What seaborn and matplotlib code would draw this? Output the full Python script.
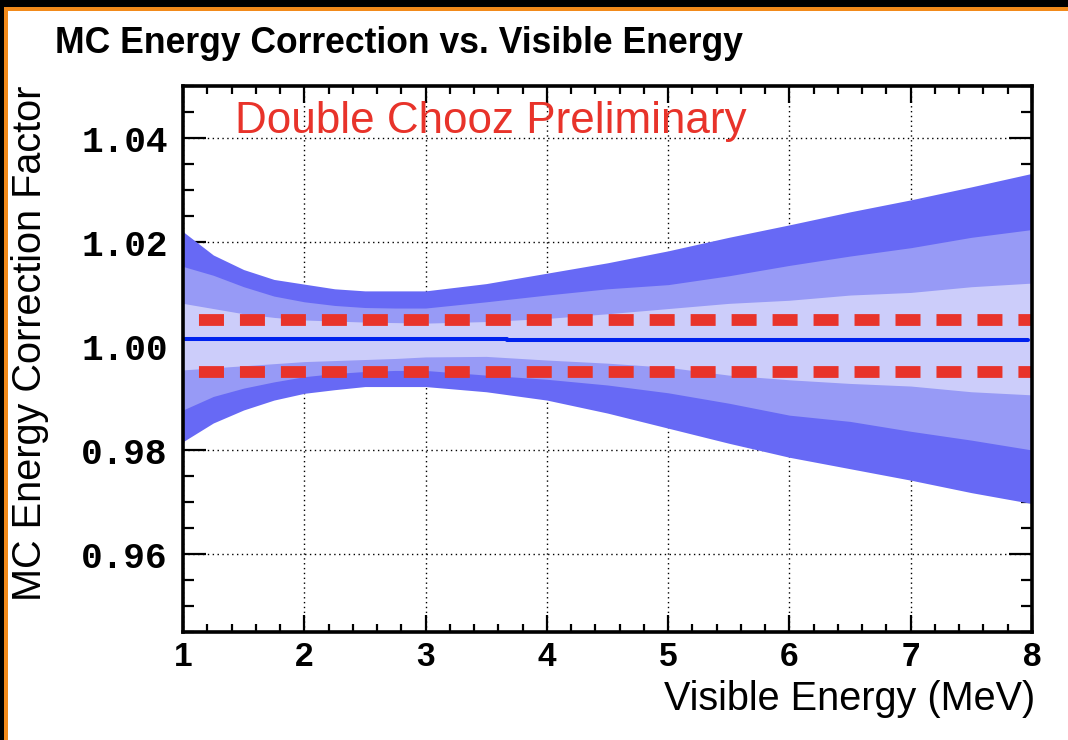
import numpy as np
import pandas as pd
import matplotlib
matplotlib.use("Agg")
import matplotlib.pyplot as plt
from matplotlib.patches import Rectangle
from matplotlib.ticker import MultipleLocator, FixedLocator
import seaborn as sns

# ---------------- data ----------------
energy = [1.0, 1.25, 1.5, 1.75, 2.0, 2.25, 2.5, 2.75, 3.0, 3.5, 4.0, 4.5,
          5.0, 5.5, 6.0, 6.5, 7.0, 7.5, 8.0]
outer_hi = [1.0220, 1.0175, 1.0147, 1.0128, 1.0119, 1.0110, 1.0106, 1.0106,
            1.0106, 1.0120, 1.0140, 1.0160, 1.0183, 1.0209, 1.0233, 1.0258,
            1.0281, 1.0306, 1.0332]
outer_lo = [0.9816, 0.9852, 0.9877, 0.9896, 0.9909, 0.9916, 0.9922, 0.9922,
            0.9922, 0.9912, 0.9896, 0.9871, 0.9842, 0.9813, 0.9786, 0.9764,
            0.9742, 0.9718, 0.9697]
mid_hi = [1.0153, 1.0136, 1.0114, 1.0096, 1.0085, 1.0078, 1.0074, 1.0073,
          1.0073, 1.0085, 1.0098, 1.0110, 1.0118, 1.0135, 1.0155, 1.0173,
          1.0189, 1.0209, 1.0224]
mid_lo = [0.9877, 0.9903, 0.9919, 0.9931, 0.9941, 0.9947, 0.9951, 0.9953,
          0.9953, 0.9944, 0.9936, 0.9925, 0.9910, 0.9890, 0.9867, 0.9855,
          0.9836, 0.9819, 0.9800]
inner_hi = [1.0082, 1.0072, 1.0062, 1.0055, 1.0050, 1.0048, 1.0046, 1.0045,
            1.0044, 1.0047, 1.0053, 1.0062, 1.0072, 1.0082, 1.0088, 1.0098,
            1.0103, 1.0114, 1.0121]
inner_lo = [0.9954, 0.9958, 0.9962, 0.9966, 0.9970, 0.9972, 0.9974, 0.9976,
            0.9979, 0.9980, 0.9973, 0.9967, 0.9959, 0.9944, 0.9935, 0.9928,
            0.9923, 0.9912, 0.9906]

center_x = [1.02, 3.67, 7.97]
center_y = [1.0014, 1.0012, 1.0012]

limit_x = [1.0, 8.0]
limit_hi = [1.005, 1.005]
limit_lo = [0.995, 0.995]

x_ticks = [1, 2, 3, 4, 5, 6, 7, 8]
y_ticks = [0.96, 0.98, 1.00, 1.02, 1.04]
y_tick_labels = ["0.96", "0.98", "1.00", "1.02", "1.04"]

title = "MC Energy Correction vs. Visible Energy"
xlabel = "Visible Energy (MeV)"
ylabel = "MC Energy Correction Factor"
watermark = "Double Chooz Preliminary"

# ---------------- style ----------------
sns.set_theme(style="ticks")
plt.rcParams["font.family"] = ["Liberation Sans", "DejaVu Sans"]
plt.rcParams["lines.scale_dashes"] = False
plt.rcParams["text.color"] = "black"

W, H = 1068, 740
fig = plt.figure(figsize=(W / 100, H / 100), dpi=100)
fig.patch.set_facecolor("black")
# orange frame and white panel
fig.patches.append(Rectangle((4 / W, 0), 1, (H - 7) / H, transform=fig.transFigure,
                             facecolor="#F28A1A", edgecolor="none", zorder=-3))
fig.patches.append(Rectangle((8 / W, 0), 1, (H - 11) / H, transform=fig.transFigure,
                             facecolor="white", edgecolor="none", zorder=-2))

ax = fig.add_axes([183 / W, (H - 632) / H, (1032 - 183) / W, (632 - 86) / H])
ax.set_facecolor("white")

df = pd.DataFrame({"E": energy, "ohi": outer_hi, "olo": outer_lo,
                   "mhi": mid_hi, "mlo": mid_lo, "ihi": inner_hi, "ilo": inner_lo})

ax.fill_between(df["E"], df["olo"], df["ohi"], color="#6769F5", lw=0, zorder=1)
ax.fill_between(df["E"], df["mlo"], df["mhi"], color="#979AF6", lw=0, zorder=1.1)
ax.fill_between(df["E"], df["ilo"], df["ihi"], color="#CCCDFA", lw=0, zorder=1.2)

sns.lineplot(x=center_x, y=center_y, ax=ax, color="#0022EE", linewidth=2.9,
             drawstyle="steps-post", zorder=3)
for ys in (limit_hi, limit_lo):
    sns.lineplot(x=limit_x, y=ys, ax=ax, color="#E8332A", linewidth=8.5,
                 linestyle=(18.0, (18.0, 11.5)), solid_capstyle="butt",
                 dash_capstyle="butt", zorder=4)

ax.set_xlim(1, 8)
ax.set_ylim(0.945, 1.05)

ax.xaxis.set_major_locator(FixedLocator(x_ticks))
ax.xaxis.set_minor_locator(MultipleLocator(0.2))
ax.yaxis.set_major_locator(FixedLocator(y_ticks))
ax.yaxis.set_minor_locator(MultipleLocator(0.005))
ax.set_yticklabels(y_tick_labels)
ax.set_xticklabels([str(t) for t in x_ticks])

ax.tick_params(axis="both", which="both", direction="in", top=True, right=True,
               color="black", labelcolor="black", width=1.6)
ax.tick_params(axis="x", which="major", length=12, pad=7)
ax.tick_params(axis="x", which="minor", length=6)
ax.tick_params(axis="y", which="major", length=16.5, pad=11)
ax.tick_params(axis="y", which="minor", length=8)

for lab in ax.get_yticklabels():
    lab.set_fontfamily(["Liberation Mono", "DejaVu Sans Mono"])
    lab.set_fontweight("bold")
    lab.set_fontsize(26)
    lab.set_color("black")
for lab in ax.get_xticklabels():
    lab.set_fontfamily(["Liberation Sans", "DejaVu Sans"])
    lab.set_fontweight("bold")
    lab.set_fontsize(24)
    lab.set_color("black")

ax.grid(True, which="major", color="black", linestyle=(0, (1, 2.5)), linewidth=1.0)
ax.set_axisbelow(True)

for sp in ax.spines.values():
    sp.set_linewidth(2.6)
    sp.set_color("black")
    sp.set_zorder(5)

ax.set_xlabel(xlabel, fontsize=28.5, loc="right", color="black")
ax.xaxis.set_label_coords(1.004, -0.088)
ax.set_ylabel(ylabel, fontsize=28.5, loc="top", color="black")
ax.yaxis.set_label_coords(-0.158, 1.0)

ax.text(52 / 849, (632 - 133) / 546, watermark, transform=ax.transAxes,
        color="#E8332A", fontsize=31.7, va="baseline", ha="left", zorder=6)

fig.text(55 / W, 1 - 53 / H, title, fontsize=25.6, fontweight="bold",
         va="baseline", ha="left", color="black")

fig.savefig("out.png", dpi=100, facecolor=fig.get_facecolor())
